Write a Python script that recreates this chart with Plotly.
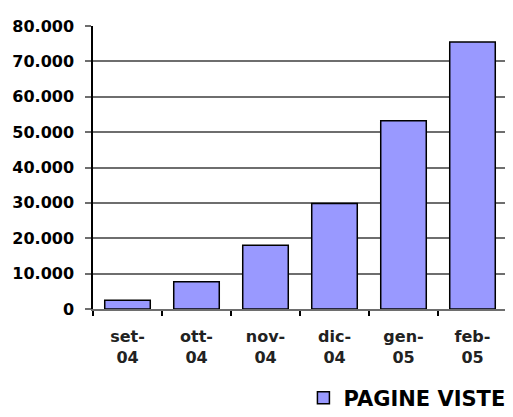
import plotly.graph_objects as go

categories = ["set-<br>04", "ott-<br>04", "nov-<br>04", "dic-<br>04", "gen-<br>05", "feb-<br>05"]
pagine_viste = [2500, 7700, 18000, 29800, 53200, 75500]
y_tick_vals = [0, 10000, 20000, 30000, 40000, 50000, 60000, 70000, 80000]
y_tick_text = ["0", "10.000", "20.000", "30.000", "40.000", "50.000", "60.000", "70.000", "80.000"]

fig = go.Figure()
fig.add_trace(go.Bar(
    x=categories, y=pagine_viste, name="PAGINE VISTE",
    marker=dict(color="#9999FF", line=dict(color="black", width=1.5)),
))

# page body adds an 8px margin, so the figure is sized to fit the window
fig.update_layout(
    width=505, height=409,
    margin=dict(l=85, r=6, t=18, b=108, autoexpand=False),
    paper_bgcolor="white", plot_bgcolor="white",
    bargap=0.34,
    showlegend=True,
    legend=dict(orientation="h", xref="container", yref="container",
                x=0.585, xanchor="left", y=0.046, yanchor="middle",
                font=dict(family="DejaVu Sans", size=21, color="black", weight="bold"),
                itemwidth=30, bgcolor="rgba(0,0,0,0)"),
    font=dict(family="DejaVu Sans", color="black"),
)
fig.update_yaxes(
    range=[0, 80000], tickvals=y_tick_vals, ticktext=y_tick_text,
    automargin=False,
    showgrid=True, gridcolor="#6e6e6e", gridwidth=1.5,
    showline=True, linecolor="black", linewidth=1.5, mirror=True,
    ticks="outside", ticklen=6, tickcolor="#6e6e6e", tickwidth=1.5,
    ticklabelstandoff=8,
    tickfont=dict(family="DejaVu Sans", size=16, color="black", weight="bold"),
    zeroline=False,
)
fig.update_xaxes(
    automargin=False,
    showline=True, linecolor="#6e6e6e", linewidth=1.5,
    ticks="outside", tickson="boundaries", ticklen=5, tickcolor="black", tickwidth=1.5,
    ticklabelstandoff=12,
    tickfont=dict(family="DejaVu Sans", size=16, color="#222", weight="bold"),
)
fig.write_html("out.html")
